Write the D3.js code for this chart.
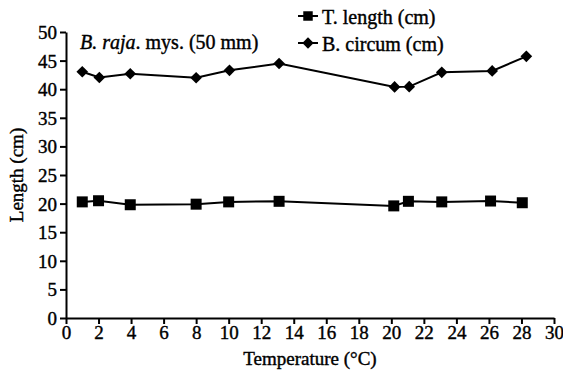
<!DOCTYPE html>
<html>
<head>
<meta charset="utf-8">
<script src="https://cdn.jsdelivr.net/npm/d3@7"></script>
<style>
  body { margin: 0; background: #fff; }
</style>
</head>
<body>
<svg id="chart" width="563" height="372"></svg>
<script>
const tempLength = [1, 2, 3.95, 8, 10, 13.1, 20.15, 21.05, 23.1, 26.1, 28.05];
const tLength = [20.3, 20.5, 19.8, 19.9, 20.3, 20.4, 19.6, 20.4, 20.3, 20.45, 20.15];
const tempCircum = [1, 2.05, 3.95, 8, 10.05, 13.1, 20.2, 21.1, 23.1, 26.2, 28.3];
const bCircum = [43.05, 42.05, 42.7, 42.0, 43.3, 44.5, 40.4, 40.45, 42.95, 43.2, 45.75];
const xTicks = d3.range(0, 31, 2);
const yTicks = d3.range(0, 51, 5);

const serif = 'Liberation Serif';

const svg = d3.select('#chart');
const margin = { left: 66, right: 9, top: 32, bottom: 54 };
const width = 563, height = 372;

const x = d3.scaleLinear().domain([0, 30]).range([margin.left, width - margin.right]);
const y = d3.scaleLinear().domain([0, 50]).range([height - margin.bottom, margin.top]);

// heavier look for the scanned-style text
function ink(sel, size) {
  sel.attr('font-family', serif)
    .attr('font-size', size)
    .attr('fill', '#000')
    .attr('stroke', '#000')
    .attr('stroke-width', 0.4);
}

const xAxis = svg.append('g')
  .attr('transform', `translate(0,${y(0)})`)
  .call(d3.axisBottom(x).tickValues(xTicks).tickSize(6).tickSizeOuter(0).tickPadding(2));

const yAxis = svg.append('g')
  .attr('transform', `translate(${x(0)},0)`)
  .call(d3.axisLeft(y).tickValues(yTicks).tickSize(6).tickSizeOuter(0).tickPadding(3));

[xAxis, yAxis].forEach(g => {
  g.attr('font-family', serif);
  g.select('.domain').attr('stroke', '#000').attr('stroke-width', 2);
  g.selectAll('.tick line').attr('stroke', '#000').attr('stroke-width', 2);
  g.selectAll('.tick text').call(ink, 19);
});
yAxis.selectAll('.tick text').attr('dy', '0.34em');

// axis titles
svg.append('text')
  .attr('x', (x(0) + x(30)) / 2)
  .attr('y', 365)
  .attr('text-anchor', 'middle')
  .call(ink, 19)
  .text('Temperature (°C)');

svg.append('text')
  .attr('transform', `translate(23,${(y(0) + y(50)) / 2}) rotate(-90)`)
  .attr('text-anchor', 'middle')
  .call(ink, 19)
  .text('Length (cm)');

const line = d3.line();

const lengthPts = tempLength.map((t, i) => [x(t), y(tLength[i])]);
const circumPts = tempCircum.map((t, i) => [x(t), y(bCircum[i])]);

svg.append('path')
  .attr('d', line(lengthPts))
  .attr('fill', 'none')
  .attr('stroke', '#000')
  .attr('stroke-width', 2);

svg.append('path')
  .attr('d', line(circumPts))
  .attr('fill', 'none')
  .attr('stroke', '#000')
  .attr('stroke-width', 2);

const square = d3.symbol().type(d3.symbolSquare).size(121);
const diamond = d3.symbol().type(d3.symbolSquare).size(68);

svg.append('g').selectAll('path')
  .data(lengthPts)
  .join('path')
  .attr('transform', d => `translate(${d[0]},${d[1]})`)
  .attr('d', square)
  .attr('fill', '#000');

svg.append('g').selectAll('path')
  .data(circumPts)
  .join('path')
  .attr('transform', d => `translate(${d[0]},${d[1]}) rotate(45)`)
  .attr('d', diamond)
  .attr('fill', '#000');

// legend
const legend = [
  { label: 'T. length (cm)', sym: d3.symbol().type(d3.symbolSquare).size(90), rot: 0, y: 16 },
  { label: 'B. circum (cm)', sym: d3.symbol().type(d3.symbolSquare).size(64), rot: 45, y: 43 }
];
const lg = svg.append('g');
legend.forEach(d => {
  lg.append('line')
    .attr('x1', 298).attr('x2', 318)
    .attr('y1', d.y).attr('y2', d.y)
    .attr('stroke', '#000').attr('stroke-width', 2);
  lg.append('path')
    .attr('transform', `translate(308,${d.y}) rotate(${d.rot})`)
    .attr('d', d.sym)
    .attr('fill', '#000');
  lg.append('text')
    .attr('x', 322)
    .attr('y', d.y + 7.5)
    .call(ink, 20)
    .text(d.label);
});

// annotation
const note = svg.append('text')
  .attr('x', 80)
  .attr('y', 49)
  .call(ink, 20);
note.append('tspan').attr('font-style', 'italic').text('B. raja');
note.append('tspan').text('. mys. (50 mm)');
</script>
</body>
</html>
